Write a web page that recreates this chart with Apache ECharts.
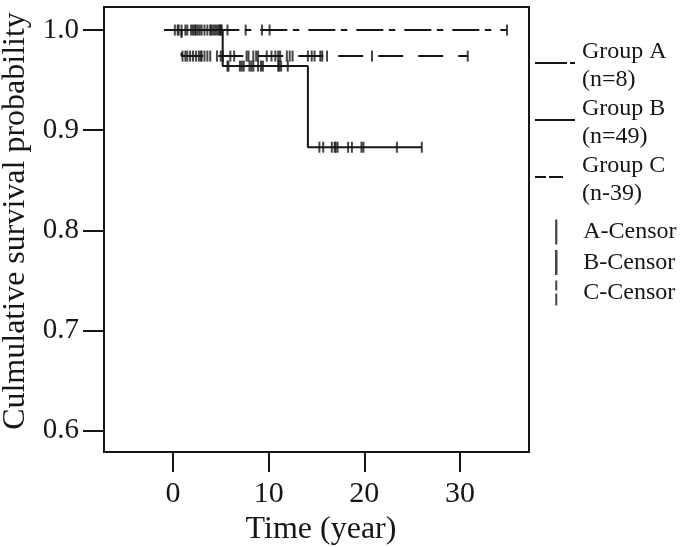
<!DOCTYPE html>
<html><head><meta charset="utf-8">
<script src="https://cdn.jsdelivr.net/npm/echarts@6/dist/echarts.min.js"></script>
<style>html,body{margin:0;padding:0;background:#fff}#c{width:685px;height:547px}</style>
</head><body><div id="c"></div>
<script>
// ---- data ----
const xTicks = [0, 10, 20, 30];
const yTicks = [0.6, 0.7, 0.8, 0.9, 1.0];
const groupNames = ['Group A', 'Group B', 'Group C'];
const groupSizes = ['(n=8)', '(n=49)', '(n-39)'];
const censorNames = ['A-Censor', 'B-Censor', 'C-Censor'];

// Kaplan-Meier step curves: event times and survival after each
const timesA = [-0.9, 34.9];
const survA  = [1.0, 1.0];
const timesB = [-0.9, 5.2, 14.1, 26.0];
const survB  = [1.0, 0.964, 0.883, 0.883];
const timesC = [-0.9, 0.9, 30.8];
const survC  = [1.0, 0.974, 0.974];

// censoring times
const censorA = [0.5, 2.4, 4.0, 5.7, 7.6, 9.3, 10.1, 34.9];
const censorB = [0.2, 0.6, 0.9, 1.3, 1.5, 1.9, 2.1, 2.3, 2.6, 2.8, 3.0, 3.3, 3.6, 3.9, 4.2, 4.4, 4.6, 4.8, 4.9, 5.0, 5.1,
                 5.7, 5.8, 7.0, 7.2, 7.4, 8.0, 8.2, 8.4, 8.9, 9.2, 9.4, 11.0, 11.1, 11.3, 12.0,
                 15.3, 15.7, 16.6, 16.9, 17.0, 17.2, 18.3, 18.7, 19.7, 19.9, 23.4, 26.0];
const censorC = [1.0, 1.3, 1.5, 1.8, 2.1, 2.4, 2.7, 2.9, 3.0, 3.3, 3.6, 3.9, 4.6, 5.0, 5.2, 6.0, 6.4, 7.7, 7.9,
                 8.4, 8.7, 8.9, 9.8, 10.3, 10.7, 11.0, 11.2, 11.9, 12.2, 12.5, 14.1, 14.5, 14.8, 15.4, 15.6, 16.1, 20.8, 30.8];

// ---- build ----
const INK = '#161616';
const serif = '"Liberation Serif", "DejaVu Serif", serif';

function stepData(times, surv) { return times.map((t, i) => [t, surv[i]]); }
function survAt(times, surv, t) {
  let s = surv[0];
  for (let i = 0; i < times.length; i++) if (times[i] <= t) s = surv[i];
  return s;
}
function censorData(ct, times, surv) { return ct.map(t => [t, survAt(times, surv, t)]); }

const lineSeries = (name, times, surv, type, z) => ({
  name, type: 'line', step: 'end', data: stepData(times, surv), symbol: 'none',
  color: INK, lineStyle: { color: INK, width: 2, type }, z, animation: false, silent: true
});
const censorSeries = (name, ct, times, surv) => ({
  name, type: 'scatter', data: censorData(ct, times, surv), symbol: 'rect', symbolSize: [2, 11],
  itemStyle: { color: INK }, z: 5, animation: false, silent: true
});

// invisible-size corner point fixes the icon box so the line sits slightly above centre
const pad = ' M41.99,7.99H42V8H41.99Z';
const groupIcons = [
  'path://M0,0H32V2H0Z M35,0H40V2H35Z' + pad,
  'path://M0,0H40V2H0Z' + pad,
  'path://M0,0H11V2H0Z M14,0H28V2H14Z' + pad
];
const censorIcons = [
  'path://M0,1H2V23H0Z',
  'path://M0,2H2V22H0Z',
  'path://M0,0H2V10H0Z M0,13H2V25H0Z'
];

const legendText = { fontFamily: serif, fontSize: 24, lineHeight: 28, color: INK };

const chart = echarts.init(document.getElementById('c'));
chart.setOption({
  backgroundColor: '#fff',
  animation: false,
  grid: { left: 104, top: 7, right: 156, bottom: 95, show: true, borderColor: INK, borderWidth: 2,
          containLabel: false, outerBoundsMode: 'none' },
  legend: [
    {
      orient: 'vertical', left: 530, top: 33, itemWidth: 42, itemHeight: 24, itemGap: 1,
      selectedMode: false, symbolKeepAspect: true, textStyle: legendText,
      data: groupNames.map((n, i) => ({ name: n, icon: groupIcons[i] })),
      formatter: name => name + '\n' + groupSizes[groupNames.indexOf(name)]
    },
    {
      orient: 'vertical', left: 550, top: 213, itemWidth: 44, itemHeight: 25, itemGap: 2.5,
      selectedMode: false, symbolKeepAspect: true, textStyle: legendText,
      data: censorNames.map((n, i) => ({ name: n, icon: censorIcons[i] }))
    }
  ],
  xAxis: {
    type: 'value', min: -7.2, max: 37.2,
    axisLine: { show: true, onZero: false, lineStyle: { color: INK, width: 2 } },
    axisTick: { show: true, inside: false, length: 20, lineStyle: { color: INK, width: 2 }, customValues: xTicks },
    axisLabel: { customValues: xTicks, margin: 27, fontSize: 30, fontFamily: serif, color: INK },
    splitLine: { show: false },
    name: 'Time (year)', nameLocation: 'middle', nameGap: 61,
    nameTextStyle: { fontSize: 32, fontFamily: serif, color: INK, padding: [0, 0, 0, 9] }
  },
  yAxis: {
    type: 'value', min: 0.5787, max: 1.023,
    axisLine: { show: true, onZero: false, lineStyle: { color: INK, width: 2 } },
    axisTick: { show: true, inside: false, length: 21, lineStyle: { color: INK, width: 2 }, customValues: yTicks },
    axisLabel: { customValues: yTicks, margin: 25, fontSize: 29, fontFamily: serif, color: INK,
                 formatter: v => Number(v).toFixed(1) },
    splitLine: { show: false },
    name: 'Culmulative survival probability', nameLocation: 'middle', nameGap: 64,
    nameTextStyle: { fontSize: 32, fontFamily: serif, color: INK, padding: [0, 0, 0, 17] }
  },
  series: [
    lineSeries('Group A', timesA, survA, [27, 5.5, 6.5, 9], 2),
    lineSeries('Group B', timesB, survB, 'solid', 4),
    lineSeries('Group C', timesC, survC, [25, 15], 3),
    censorSeries('A-Censor', censorA, timesA, survA),
    censorSeries('B-Censor', censorB, timesB, survB),
    censorSeries('C-Censor', censorC, timesC, survC)
  ]
});
</script></body></html>
